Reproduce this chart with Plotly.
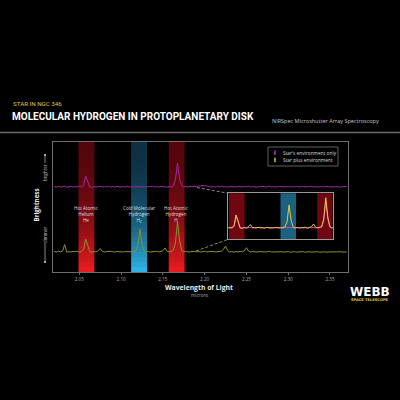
import plotly.graph_objects as go

# ---------------- data ----------------
wavelength = [
    2.0200, 2.0225, 2.0250, 2.0275, 2.0300, 2.0325, 2.0350, 2.0375, 2.0400, 2.0425,
    2.0450, 2.0475, 2.0500, 2.0525, 2.0550, 2.0575, 2.0600, 2.0625, 2.0650, 2.0675,
    2.0700, 2.0725, 2.0750, 2.0775, 2.0800, 2.0825, 2.0850, 2.0875, 2.0900, 2.0925,
    2.0950, 2.0975, 2.1000, 2.1025, 2.1050, 2.1075, 2.1100, 2.1125, 2.1150, 2.1175,
    2.1200, 2.1225, 2.1250, 2.1275, 2.1300, 2.1325, 2.1350, 2.1375, 2.1400, 2.1425,
    2.1450, 2.1475, 2.1500, 2.1525, 2.1550, 2.1575, 2.1600, 2.1625, 2.1650, 2.1675,
    2.1700, 2.1725, 2.1750, 2.1775, 2.1800, 2.1825, 2.1850, 2.1875, 2.1900, 2.1925,
    2.1950, 2.1975, 2.2000, 2.2025, 2.2050, 2.2075, 2.2100, 2.2125, 2.2150, 2.2175,
    2.2200, 2.2225, 2.2250, 2.2275, 2.2300, 2.2325, 2.2350, 2.2375, 2.2400, 2.2425,
    2.2450, 2.2475, 2.2500, 2.2525, 2.2550, 2.2575, 2.2600, 2.2625, 2.2650, 2.2675,
    2.2700, 2.2725, 2.2750, 2.2775, 2.2800, 2.2825, 2.2850, 2.2875, 2.2900, 2.2925,
    2.2950, 2.2975, 2.3000, 2.3025, 2.3050, 2.3075, 2.3100, 2.3125, 2.3150, 2.3175,
    2.3200, 2.3225, 2.3250, 2.3275, 2.3300, 2.3325, 2.3350, 2.3375, 2.3400, 2.3425,
    2.3450, 2.3475, 2.3500, 2.3525, 2.3550, 2.3575, 2.3600, 2.3625, 2.3650, 2.3675,
    2.3700,
]

env_only = [
    8.55, 8.49, 8.56, 8.50, 8.53, 8.58, 8.48, 8.52, 8.56, 8.47,
    8.54, 8.50, 8.57, 8.51, 8.62, 9.62, 9.05, 8.50, 8.46, 8.55,
    8.50, 8.53, 8.56, 8.49, 8.55, 8.51, 8.57, 8.48, 8.53, 8.50,
    8.56, 8.52, 8.49, 8.55, 8.51, 8.57, 8.50, 8.53, 8.48, 8.55,
    8.52, 8.56, 8.50, 8.54, 8.49, 8.55, 8.51, 8.57, 8.50, 8.53,
    8.48, 8.55, 8.52, 8.56, 8.50, 8.54, 8.51, 8.60, 9.20, 10.90,
    9.30, 8.62, 8.50, 8.55, 8.49, 8.56, 8.52, 8.58, 8.53, 8.60,
    8.62, 8.65, 8.63, 8.60, 8.55, 8.50, 8.54, 8.49, 8.55, 8.51,
    8.56, 8.50, 8.53, 8.48, 8.55, 8.51, 8.54, 8.49, 8.56, 8.52,
    8.50, 8.55, 8.51, 8.57, 8.50, 8.54, 8.52, 8.49, 8.55, 8.51,
    8.56, 8.50, 8.53, 8.57, 8.50, 8.54, 8.49, 8.55, 8.52, 8.56,
    8.50, 8.53, 8.55, 8.49, 8.54, 8.51, 8.56, 8.50, 8.53, 8.55,
    8.49, 8.54, 8.51, 8.56, 8.52, 8.50, 8.55, 8.51, 8.54, 8.49,
    8.55, 8.52, 8.56, 8.50, 8.53, 8.51, 8.55, 8.49, 8.54, 8.52,
    8.53,
]

star_plus_env = [
    2.05, 2.00, 2.07, 2.01, 2.10, 2.75, 1.98, 2.04, 2.00, 2.06,
    2.02, 2.08, 1.99, 2.05, 2.20, 3.30, 2.70, 2.02, 1.98, 2.05,
    2.00, 2.12, 2.35, 2.06, 2.01, 2.04, 2.00, 2.07, 2.03, 1.99,
    2.05, 2.02, 2.06, 2.00, 2.04, 2.01, 2.05, 2.02, 2.06, 2.10,
    2.60, 4.30, 2.75, 2.08, 2.01, 2.05, 2.00, 2.04, 2.02, 2.07,
    2.00, 2.05, 2.12, 2.40, 2.08, 2.02, 2.06, 2.15, 2.90, 5.03,
    3.10, 2.15, 2.02, 2.06, 2.00, 2.04, 2.01, 2.06, 2.02, 2.05,
    2.00, 2.04, 2.06, 2.01, 2.05, 2.02, 2.07, 2.00, 2.04, 2.02,
    2.08, 2.25, 2.60, 2.15, 2.00, 2.05, 1.98, 2.04, 2.01, 2.06,
    2.02, 2.12, 2.43, 2.10, 2.00, 2.05, 2.02, 1.99, 2.04, 2.01,
    2.05, 2.00, 2.03, 2.06, 2.00, 2.02, 1.98, 2.04, 2.01, 2.03,
    1.99, 2.02, 2.04, 1.98, 2.01, 2.03, 1.99, 2.02, 2.00, 2.04,
    1.98, 2.01, 2.03, 1.99, 2.02, 2.00, 2.03, 1.98, 2.01, 2.02,
    1.99, 2.03, 2.00, 2.02, 1.98, 2.01, 2.03, 2.00, 2.02, 1.99,
    2.01,
]

series_names = ["Star's environment only", "Star plus environment"]

band_labels = ["Hot Atomic<br>Helium<br>He", "Cold Molecular<br>Hydrogen<br>H<sub>2</sub>",
               "Hot Atomic<br>Hydrogen<br>H"]
band_start = [2.049, 2.112, 2.157]
band_end = [2.068, 2.131, 2.176]
band_kind = ["hot", "cold", "hot"]

tick_vals = [2.05, 2.10, 2.15, 2.20, 2.25, 2.30, 2.35]
tick_text = ["2.05", "2.10", "2.15", "2.20", "2.25", "2.30", "2.35"]

# ---------------- styling helpers ----------------
W = H = 400
def px(x):
    return x / W
def py(y):
    return 1 - y / H

MAG = "#a32aa3"
YEL = "#8a9232"
MAG_IN = "#e040c8"
YEL_IN = "#e0c848"
FONT = "Open Sans"
TITLE_FONT = "Roboto"

fig = go.Figure()

# main traces
fig.add_trace(go.Scatter(x=wavelength, y=env_only, mode="lines", name=series_names[0],
                         line=dict(color=MAG, width=1), xaxis="x", yaxis="y", showlegend=False))
fig.add_trace(go.Scatter(x=wavelength, y=star_plus_env, mode="lines", name=series_names[1],
                         line=dict(color=YEL, width=1), xaxis="x", yaxis="y", showlegend=False))
# inset traces (yellow under magenta)
fig.add_trace(go.Scatter(x=wavelength, y=star_plus_env, mode="lines", name=series_names[1],
                         line=dict(color=YEL_IN, width=1), xaxis="x2", yaxis="y3", showlegend=False))
fig.add_trace(go.Scatter(x=wavelength, y=env_only, mode="lines", name=series_names[0],
                         line=dict(color=MAG_IN, width=1), xaxis="x2", yaxis="y2", showlegend=False))

shapes = []

# gradient bands in main plot
top_px, bot_px = 142, 272
n = 26
def lerp(c1, c2, t):
    return "rgb(%d,%d,%d)" % tuple(round(a + (b - a) * t) for a, b in zip(c1, c2))
for k in range(n):
    y0 = top_px + (bot_px - top_px) * k / n
    y1 = top_px + (bot_px - top_px) * (k + 1) / n
    t = (k + 0.5) / n
    tt = t ** 2.2
    for s, e, kind in zip(band_start, band_end, band_kind):
        if kind == "hot":
            col = lerp((85, 6, 12), (238, 28, 32), tt)
        else:
            col = lerp((14, 48, 66), (45, 185, 235), tt)
        shapes.append(dict(type="rect", xref="x", yref="paper", x0=s, x1=e,
                           y0=py(y1), y1=py(y0), fillcolor=col, line=dict(width=0),
                           layer="below"))

# inset bands
for s, e, kind in zip(band_start, band_end, band_kind):
    col = "rgb(112,6,16)" if kind == "hot" else "rgb(26,98,128)"
    shapes.append(dict(type="rect", xref="x2", yref="paper", x0=s, x1=e, y0=py(239.3),
                       y1=py(193.3), fillcolor=col, line=dict(width=0), layer="below"))

# separator line under title
shapes.append(dict(type="line", xref="paper", yref="paper", x0=0, x1=1, y0=py(132.5), y1=py(132.5),
                   line=dict(color="#6a6a6a", width=1.5)))

# dashed connectors to inset
shapes.append(dict(type="line", xref="paper", yref="paper", x0=px(197), y0=py(187.5),
                   x1=px(228.3), y1=py(193.3), line=dict(color="#8a8a8a", width=1, dash="3px,2px")))
shapes.append(dict(type="line", xref="paper", yref="paper", x0=px(196), y0=py(251),
                   x1=px(228.3), y1=py(239.3), line=dict(color="#8a8a8a", width=1, dash="3px,2px")))

# legend box
shapes.append(dict(type="rect", xref="paper", yref="paper", x0=px(268), x1=px(338), y0=py(166),
                   y1=py(147), fillcolor="black", line=dict(color="#777777", width=0.8)))
shapes.append(dict(type="line", xref="paper", yref="paper", x0=px(275), x1=px(275), y0=py(155),
                   y1=py(150.5), line=dict(color="#c030c0", width=1.5)))
shapes.append(dict(type="line", xref="paper", yref="paper", x0=px(275), x1=px(275), y0=py(162.3),
                   y1=py(157.8), line=dict(color="#c8c040", width=1.5)))

# y-axis arrow decorations
shapes.append(dict(type="line", xref="paper", yref="paper", x0=px(45), x1=px(45), y0=py(155.5),
                   y1=py(163), line=dict(color="#aaaaaa", width=0.8)))
shapes.append(dict(type="line", xref="paper", yref="paper", x0=px(45), x1=px(45), y0=py(243),
                   y1=py(261), line=dict(color="#aaaaaa", width=0.8)))
for yy in (155, 262):
    shapes.append(dict(type="circle", xref="paper", yref="paper", x0=px(44), x1=px(46),
                       y0=py(yy + 1), y1=py(yy - 1), fillcolor="#dddddd", line=dict(width=0)))

annotations = []
def ann(text, x, y, size, color="#cccccc", family=FONT, xanchor="center", angle=0):
    annotations.append(dict(text=text, x=px(x), y=py(y), xref="paper", yref="paper",
                            xanchor=xanchor, yanchor="middle", showarrow=False,
                            textangle=angle, font=dict(size=size, color=color, family=family)))

ann("STAR IN NGC 346", 11, 104, 6.2, color="#e3c24a", family=TITLE_FONT, xanchor="left")
ann("<b>MOLECULAR HYDROGEN IN PROTOPLANETARY DISK</b>", 10, 116.5, 10.0, color="white",
    family=TITLE_FONT, xanchor="left")
ann("NIRSpec Microshutter Array Spectroscopy", 270, 120.5, 5.5, color="#c8c8c8", xanchor="left")

# band labels
band_label_x = [(s + e) / 2 for s, e in zip(band_start, band_end)]
for lab, cx in zip(band_labels, band_label_x):
    annotations.append(dict(text=lab, x=cx, y=py(214), xref="x", yref="paper", xanchor="center",
                            yanchor="middle", showarrow=False,
                            font=dict(size=4.6, color="#dddddd", family=FONT)))

# legend texts
ann(series_names[0], 280.5, 152.8, 4.8, color="#dddddd", xanchor="left")
ann(series_names[1], 280.5, 160.1, 4.8, color="#dddddd", xanchor="left")

# axis titles
ann("<b>Wavelength of Light</b>", 199, 287, 6.8, color="#e8e8e8")
ann("microns", 199, 295, 4.6, color="#aaaaaa")
ann("<b>Brightness</b>", 36.5, 205, 6.2, color="#e8e8e8", angle=-90)
ann("brighter", 45, 173, 4.4, color="#bbbbbb", angle=-90)
ann("dimmer", 45, 235, 4.4, color="#bbbbbb", angle=-90)

# Webb logo
ann("<b>WEBB</b>", 370, 292, 12, color="white", family="DejaVu Sans")
ann("<b>SPACE TELESCOPE</b>", 370, 299.5, 3.6, color="#e3c24a", family="DejaVu Sans")

axis_line = "#6e6e6e"
fig.update_layout(
    width=W, height=H, margin=dict(l=0, r=0, t=0, b=0),
    paper_bgcolor="black", plot_bgcolor="rgba(0,0,0,0)",
    showlegend=False,
    xaxis=dict(domain=[px(53), px(347.7)], range=[2.0185, 2.3712], tickvals=tick_vals,
               ticktext=tick_text, tickfont=dict(size=4.6, color="#aaaaaa", family=FONT),
               ticks="outside", ticklen=2, tickcolor=axis_line, showgrid=False, zeroline=False,
               showline=True, linecolor=axis_line, linewidth=1, mirror=True, anchor="y"),
    yaxis=dict(domain=[py(272), py(142)], range=[0, 13], showticklabels=False, showgrid=False,
               zeroline=False, showline=True, linecolor=axis_line, linewidth=1, mirror=True,
               anchor="x"),
    xaxis2=dict(domain=[px(228.3), px(332.7)], range=[2.048, 2.176], showticklabels=False,
                showgrid=False, zeroline=False, showline=True, linecolor="#9a9a9a", linewidth=1.2,
                mirror=True, anchor="y2"),
    yaxis2=dict(domain=[py(239.3), py(193.3)], range=[7.475, 11.655], showticklabels=False,
                showgrid=False, zeroline=False, showline=True, linecolor="#9a9a9a", linewidth=1.2,
                mirror=True, anchor="x2"),
    yaxis3=dict(overlaying="y2", range=[0.87, 5.47], showticklabels=False, showgrid=False,
                zeroline=False, showline=False, anchor="x2"),
    shapes=shapes, annotations=annotations,
)

fig.write_html("out.html", config={"displayModeBar": False},
               post_script="document.body.style.margin='0';document.body.style.background='black';")
